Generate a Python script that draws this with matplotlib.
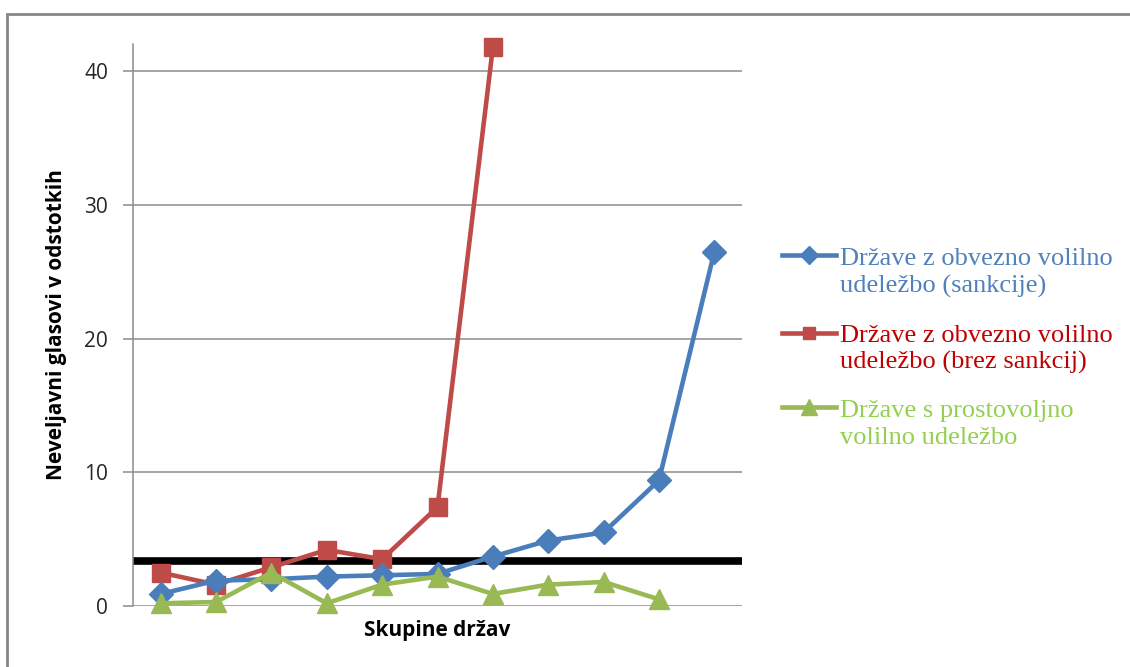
import matplotlib
matplotlib.use("Agg")
import matplotlib.pyplot as plt
from matplotlib.patches import Rectangle
from matplotlib.lines import Line2D

# Data
groups = list(range(1, 12))
blue_vals = [0.9, 1.9, 2.0, 2.2, 2.3, 2.4, 3.7, 4.9, 5.5, 9.4, 26.5]
red_vals = [2.5, 1.6, 2.9, 4.2, 3.5, 7.4, 41.8]
green_vals = [0.2, 0.3, 2.5, 0.2, 1.6, 2.2, 0.9, 1.6, 1.8, 0.5]
threshold = 3.4
yticks = [0, 10, 20, 30, 40]
labels = [["Države z obvezno volilno", "udeležbo (sankcije)"],
          ["Države z obvezno volilno", "udeležbo (brez sankcij)"],
          ["Države s prostovoljno", "volilno udeležbo"]]
line_colors = ["#4A7EBB", "#BE4B48", "#98B954"]
text_colors = ["#4F81BD", "#C00000", "#92D050"]
markers = ["D", "s", "^"]

W, H = 1130, 667
fig = plt.figure(figsize=(W/100, H/100), dpi=100)
fig.patches.append(Rectangle((7/W, -0.01), 1.0, 1 - 14/H + 0.01, transform=fig.transFigure,
                             fill=False, edgecolor="#868686", linewidth=2))
ax = fig.add_axes([133/W, 1 - 606/H, (742-133)/W, (606-44)/H])

ax.set_xlim(0.5, 11.5)
ax.set_ylim(0, 42.05)
for y in yticks:
    ax.axhline(y, color="#8C8C8C", linewidth=1.1, zorder=1)
ax.set_yticks(yticks)
ax.set_xticks([])
ax.tick_params(axis="y", length=7, width=1.1, color="#8C8C8C", labelsize=15, labelcolor="#262626", pad=11)
for lab in ax.get_yticklabels():
    lab.set_family("Open Sans")
for s in ["top", "right", "bottom"]:
    ax.spines[s].set_visible(False)
ax.spines["left"].set_color("#8C8C8C")
ax.spines["left"].set_linewidth(1.1)

ax.plot([0.5, 11.5], [threshold, threshold], color="black", linewidth=5.5, zorder=2, solid_capstyle="butt")

ax.plot(groups[:len(blue_vals)], blue_vals, color=line_colors[0], linewidth=3.3, marker="D",
        markersize=12, zorder=4, clip_on=False)
ax.plot(groups[:len(red_vals)], red_vals, color=line_colors[1], linewidth=3.3, marker="s",
        markersize=13, zorder=3, clip_on=False)
ax.plot(groups[:len(green_vals)], green_vals, color=line_colors[2], linewidth=3.3, marker="^",
        markersize=15, zorder=5, clip_on=False)

ax.set_ylabel("Neveljavni glasovi v odstotkih", fontsize=15, fontweight="bold", family="Open Sans", labelpad=12)
ax.set_xlabel("Skupine držav", fontsize=15, fontweight="bold", family="Open Sans", labelpad=10)

# Legend (manual)
handle_y = [255, 333, 407]
baselines = [(265, 293), (342, 369), (417, 444)]
for yc, bl, lab, lc, tc, m in zip(handle_y, baselines, labels, line_colors, text_colors, markers):
    fy = 1 - yc / H
    fig.add_artist(Line2D([782/W, 836/W], [fy, fy], transform=fig.transFigure,
                          color=lc, linewidth=3.3))
    fig.add_artist(Line2D([809/W], [fy], transform=fig.transFigure, color=lc,
                          marker=m, markersize=9 if m != "^" else 11, linestyle="none"))
    for line, b in zip(lab, bl):
        fig.text(840/W, 1 - b / H, line, va="baseline", ha="left", color=tc,
                 family="Liberation Serif", fontsize=19)

fig.savefig("out.png", dpi=100)
